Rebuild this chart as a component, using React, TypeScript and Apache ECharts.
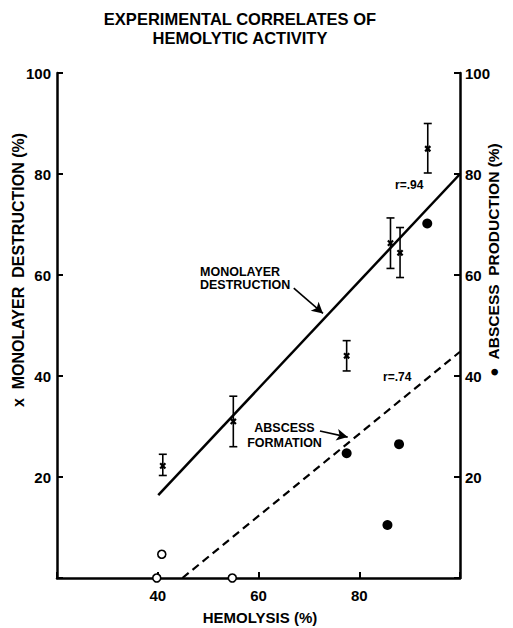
import React, { useEffect, useRef } from "react";
import * as echarts from "echarts";

// Hemolysis (%) vs monolayer destruction (%) — mean with error range
const monolayerX = [41.0, 55.0, 77.5, 86.2, 88.1, 93.6];
const monolayerY = [22.2, 31.0, 44.0, 66.3, 64.4, 85.0];
const monolayerLow = [20.3, 26.0, 41.0, 61.3, 59.5, 80.2];
const monolayerHigh = [24.5, 36.0, 47.0, 71.3, 69.4, 90.0];

// Abscess production (%) — filled dots
const abscessX = [77.5, 85.6, 87.9, 93.5];
const abscessY = [24.7, 10.5, 26.5, 70.2];

// Abscess — open circles (no/low abscess production)
const openX = [39.8, 40.8, 54.8];
const openY = [0, 4.7, 0];

// Regression lines (endpoints)
const monolayerFitX = [40.1, 100];
const monolayerFitY = [16.4, 80];
const abscessFitX = [44.9, 100];
const abscessFitY = [0, 44.8];

const xTickLabels = ["40", "60", "80"];
const yTickLabels = ["20", "40", "60", "80", "100"];

const FONT = "Liberation Sans, Arial, sans-serif";

export default function App() {
  const ref = useRef<HTMLDivElement>(null);
  useEffect(() => {
    if (!ref.current) return;
    const chart = echarts.init(ref.current, undefined, { renderer: "svg" });
    const black = "#000";
    const axisCommon = {
      min: 0,
      max: 100,
      interval: 20,
      splitLine: { show: false },
      axisLine: { show: true, lineStyle: { color: black, width: 2.5 } },
      axisTick: { show: true, inside: true, length: 6, lineStyle: { color: black, width: 2 } },
      axisLabel: {
        color: black,
        fontFamily: FONT,
        fontWeight: "bold",
        fontSize: 15,
        formatter: (v: number) => (yTickLabels.includes(String(v)) ? String(v) : ""),
      },
    };
    const option: any = {
      animation: false,
      backgroundColor: "#fff",
      grid: { left: 57, right: 53, top: 73, bottom: 50, containLabel: false },
      xAxis: {
        type: "value",
        min: 20,
        max: 100,
        interval: 20,
        splitLine: { show: false },
        axisLine: { show: true, lineStyle: { color: black, width: 2.5 } },
        axisTick: { show: true, inside: true, length: 6, lineStyle: { color: black, width: 2 } },
        axisLabel: {
          color: black,
          fontFamily: FONT,
          fontWeight: "bold",
          fontSize: 15,
          margin: 10,
          formatter: (v: number) => (xTickLabels.includes(String(v)) ? String(v) : ""),
        },
      },
      yAxis: [
        { type: "value", position: "left", ...axisCommon, axisLabel: { ...axisCommon.axisLabel, margin: 6 } },
        { type: "value", position: "right", ...axisCommon, axisLabel: { ...axisCommon.axisLabel, margin: 5 } },
      ],
      series: [
        {
          name: "Monolayer destruction fit",
          type: "line",
          data: monolayerFitX.map((x, i) => [x, monolayerFitY[i]]),
          symbol: "none",
          lineStyle: { color: black, width: 2.5 },
          markLine: {
            silent: true,
            symbol: ["none", "arrow"],
            symbolSize: [9, 11],
            lineStyle: { color: black, width: 1.6, type: "solid" },
            label: { show: false },
            data: [
              [{ coord: [67.0, 57.4] }, { coord: [72.8, 52.4] }],
              [{ coord: [72.2, 29.1] }, { coord: [77.7, 27.9] }],
            ],
          },
        },
        {
          name: "Abscess formation fit",
          type: "line",
          yAxisIndex: 1,
          data: abscessFitX.map((x, i) => [x, abscessFitY[i]]),
          symbol: "none",
          lineStyle: { color: black, width: 2.2, type: [8, 5] },
        },
        {
          name: "Monolayer destruction",
          type: "custom",
          data: monolayerX.map((x, i) => [x, monolayerY[i], monolayerLow[i], monolayerHigh[i]]),
          renderItem: (params: any, api: any) => {
            const x = api.value(0);
            const c = api.coord([x, api.value(1)]);
            const lo = api.coord([x, api.value(2)]);
            const hi = api.coord([x, api.value(3)]);
            const cap = 4;
            const m = 2.6;
            const ls = { stroke: black, lineWidth: 1.6 };
            return {
              type: "group",
              children: [
                { type: "line", shape: { x1: lo[0], y1: lo[1], x2: hi[0], y2: hi[1] }, style: ls },
                { type: "line", shape: { x1: lo[0] - cap, y1: lo[1], x2: lo[0] + cap, y2: lo[1] }, style: ls },
                { type: "line", shape: { x1: hi[0] - cap, y1: hi[1], x2: hi[0] + cap, y2: hi[1] }, style: ls },
                { type: "line", shape: { x1: c[0] - m, y1: c[1] - m, x2: c[0] + m, y2: c[1] + m }, style: { stroke: black, lineWidth: 2.2 } },
                { type: "line", shape: { x1: c[0] - m, y1: c[1] + m, x2: c[0] + m, y2: c[1] - m }, style: { stroke: black, lineWidth: 2.2 } },
              ],
            };
          },
        },
        {
          name: "Abscess production",
          type: "scatter",
          yAxisIndex: 1,
          data: abscessX.map((x, i) => [x, abscessY[i]]),
          symbol: "circle",
          symbolSize: 10,
          itemStyle: { color: black, opacity: 1 },
          emphasis: { disabled: true },
        },
        {
          name: "No abscess",
          type: "scatter",
          yAxisIndex: 1,
          data: openX.map((x, i) => [x, openY[i]]),
          symbol: "circle",
          symbolSize: 8,
          clip: false,
          z: 5,
          itemStyle: { color: "#fff", borderColor: black, borderWidth: 1.6, opacity: 1 },
          emphasis: { disabled: true },
        },
      ],
      graphic: [
        {
          type: "text",
          x: 240,
          y: 28,
          style: {
            text: "EXPERIMENTAL CORRELATES OF\nHEMOLYTIC ACTIVITY",
            fill: black,
            font: `bold 16.5px ${FONT}`,
            lineHeight: 19,
            textAlign: "center",
            textVerticalAlign: "middle",
          },
        },
        {
          type: "text",
          x: 200,
          y: 278.5,
          style: {
            text: "MONOLAYER\nDESTRUCTION",
            fill: black,
            font: `bold 12.5px ${FONT}`,
            lineHeight: 13.5,
            textAlign: "left",
            textVerticalAlign: "middle",
          },
        },
        {
          type: "text",
          x: 284.5,
          y: 435.5,
          style: {
            text: "ABSCESS\nFORMATION",
            fill: black,
            font: `bold 12.5px ${FONT}`,
            lineHeight: 15,
            textAlign: "center",
            textVerticalAlign: "middle",
          },
        },
        {
          type: "text",
          x: 395,
          y: 185,
          style: { text: "r=.94", fill: black, font: `bold 12px ${FONT}`, textAlign: "left", textVerticalAlign: "middle" },
        },
        {
          type: "text",
          x: 383,
          y: 377,
          style: { text: "r=.74", fill: black, font: `bold 12px ${FONT}`, textAlign: "left", textVerticalAlign: "middle" },
        },
        {
          type: "text",
          x: 18,
          y: 270,
          rotation: Math.PI / 2,
          style: {
            text: "x  MONOLAYER  DESTRUCTION (%)",
            fill: black,
            font: `bold 16px ${FONT}`,
            textAlign: "center",
            textVerticalAlign: "middle",
          },
        },
        {
          type: "text",
          x: 493,
          y: 260,
          rotation: Math.PI / 2,
          style: {
            text: "●  ABSCESS  PRODUCTION (%)",
            fill: black,
            font: `bold 15.5px ${FONT}`,
            textAlign: "center",
            textVerticalAlign: "middle",
          },
        },
        {
          type: "text",
          x: 260,
          y: 617,
          style: {
            text: "HEMOLYSIS (%)",
            fill: black,
            font: `bold 15px ${FONT}`,
            textAlign: "center",
            textVerticalAlign: "middle",
          },
        },
      ],
    };
    chart.setOption(option);
    return () => chart.dispose();
  }, []);
  return (
    <div
      ref={ref}
      style={{ position: "fixed", left: 0, top: 0, width: 513, height: 628, overflow: "hidden" }}
    />
  );
}
